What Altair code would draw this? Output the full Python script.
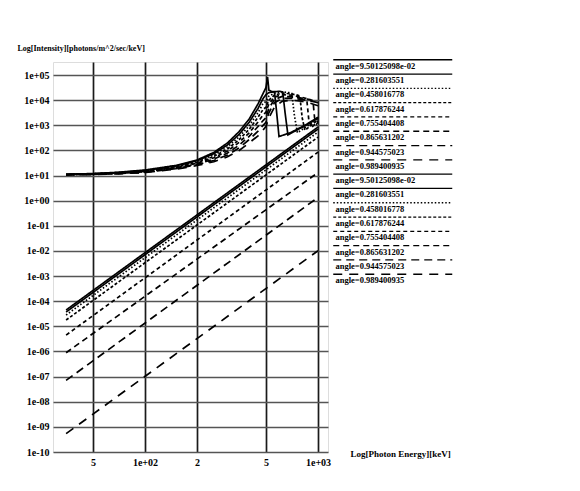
import altair as alt
import pandas as pd

# ---------------- data ----------------
ANGLE_LABELS = ["9.50125098e-02", "0.281603551", "0.458016778", "0.617876244",
                "0.755404408", "0.865631202", "0.944575023", "0.989400935"]

DASHES = [[1, 0], [1, 0], [1.5, 2], [3, 2], [4, 3], [6, 4], [8, 5], [9, 7]]

# upper family: rising part (common energies, keV) and log10 intensity per angle
RISE_E = [35, 50, 70, 100, 150, 200, 250, 300, 350, 400, 450, 480]
RISE_LOG = [
    [1.05, 1.08, 1.13, 1.22, 1.40, 1.62, 1.92, 2.30, 2.75, 3.25, 3.85, 4.25],
    [1.05, 1.07, 1.12, 1.20, 1.38, 1.59, 1.87, 2.22, 2.64, 3.12, 3.67, 4.05],
    [1.04, 1.07, 1.11, 1.19, 1.36, 1.56, 1.82, 2.14, 2.54, 2.98, 3.50, 3.85],
    [1.04, 1.06, 1.10, 1.17, 1.33, 1.52, 1.76, 2.06, 2.43, 2.84, 3.32, 3.62],
    [1.04, 1.06, 1.09, 1.16, 1.31, 1.49, 1.71, 1.98, 2.32, 2.70, 3.13, 3.40],
    [1.04, 1.05, 1.09, 1.15, 1.29, 1.46, 1.65, 1.90, 2.21, 2.56, 2.95, 3.18],
    [1.03, 1.05, 1.08, 1.13, 1.27, 1.43, 1.60, 1.82, 2.10, 2.43, 2.77, 2.99],
    [1.03, 1.04, 1.07, 1.12, 1.25, 1.40, 1.55, 1.75, 2.00, 2.30, 2.58, 2.80],
]
# upper family: peak / dome part
TAIL_E = [
    [500, 511, 520, 540, 560, 575, 595, 700, 850, 1000],
    [500, 520, 560, 600, 625, 645, 670, 800, 1000],
    [500, 520, 560, 620, 680, 705, 730, 760, 880, 1000],
    [500, 520, 560, 620, 700, 760, 785, 810, 840, 1000],
    [500, 520, 560, 620, 700, 800, 860, 885, 915, 1000],
    [500, 520, 560, 620, 700, 800, 900, 935, 955, 980, 1000],
    [500, 520, 560, 620, 700, 800, 900, 1000],
    [500, 520, 560, 620, 700, 800, 900, 1000],
]
TAIL_LOG = [
    [4.50, 4.92, 4.40, 4.34, 4.33, 3.60, 2.55, 2.72, 3.02, 3.32],
    [4.22, 4.30, 4.34, 4.35, 4.33, 3.50, 2.62, 2.90, 3.28],
    [3.95, 4.16, 4.28, 4.33, 4.30, 4.27, 3.40, 2.70, 3.00, 3.25],
    [3.72, 4.00, 4.20, 4.28, 4.25, 4.20, 4.17, 3.30, 2.80, 3.22],
    [3.52, 3.85, 4.12, 4.22, 4.20, 4.12, 4.06, 3.20, 2.90, 3.18],
    [3.30, 3.68, 4.02, 4.15, 4.14, 4.08, 4.02, 3.98, 3.30, 3.05, 3.12],
    [3.12, 3.50, 3.90, 4.07, 4.08, 4.03, 3.97, 3.90],
    [2.95, 3.30, 3.72, 3.95, 4.00, 3.96, 3.88, 3.78],
]

# lower family: straight power-law lines (start / end, log10 intensity)
LOWER_E = [35, 1000]
LOWER_LOG = [
    [-4.35, 2.93], [-4.43, 2.85], [-4.55, 2.73], [-4.75, 2.53],
    [-5.35, 1.93], [-6.05, 1.12], [-7.15, 0.13], [-9.27, -1.99],
]

X_TICKS = [50, 100, 200, 500, 1000]
X_TICK_LABELS = ["5", "1e+02", "2", "5", "1e+03"]
Y_TICKS = [1e-10, 1e-09, 1e-08, 1e-07, 1e-06, 1e-05, 1e-04, 1e-03,
           1e-02, 1e-01, 1e+00, 1e+01, 1e+02, 1e+03, 1e+04, 1e+05]
Y_TICK_LABELS = ["1e-10", "1e-09", "1e-08", "1e-07", "1e-06", "1e-05", "1e-04", "1e-03",
                 "1e-02", "1e-01", "1e+00", "1e+01", "1e+02", "1e+03", "1e+04", "1e+05"]

# ---------------- table ----------------
rows = []
series_order = []
dash_range = []
for k, ang in enumerate(ANGLE_LABELS):
    name = f"u{k}|angle={ang}"
    series_order.append(name)
    dash_range.append(DASHES[k])
    for e, v in zip(RISE_E + TAIL_E[k], RISE_LOG[k] + TAIL_LOG[k]):
        rows.append({"series": name, "energy": e, "intensity": 10 ** v})
for k, ang in enumerate(ANGLE_LABELS):
    name = f"l{k}|angle={ang}"
    series_order.append(name)
    dash_range.append(DASHES[k])
    for e, v in zip(LOWER_E, LOWER_LOG[k]):
        rows.append({"series": name, "energy": e, "intensity": 10 ** v})
df = pd.DataFrame(rows)

x_label_expr = " : ".join(
    f"datum.value == {t} ? '{lab}'" for t, lab in zip(X_TICKS, X_TICK_LABELS)
) + " : ''"
y_label_expr = "[" + ",".join(f"'{s}'" for s in Y_TICK_LABELS) + "][round(log(datum.value)/LN10) + 10]"

FONT = "Liberation Serif"

chart = alt.Chart(df).mark_line(color="black", strokeWidth=1.7).encode(
    x=alt.X(
        "energy:Q",
        scale=alt.Scale(type="log", domain=[29.4, 1142], nice=False),
        axis=alt.Axis(
            values=X_TICKS, labelExpr=x_label_expr, labelFlush=False,
            grid=True, gridColor="#1a1a1a", gridWidth=1.7,
            domain=False, ticks=False, labelPadding=5,
            labelFont=FONT, labelFontSize=10, labelFontWeight="bold", labelColor="black",
            title="Log[Photon Energy][keV]", titleX=297, titleY=1,
            titleAlign="left", titleBaseline="middle",
            titleFont=FONT, titleFontSize=9, titleFontWeight="bold", titleColor="black",
        ),
    ),
    y=alt.Y(
        "intensity:Q",
        scale=alt.Scale(type="log", domain=[1e-10, 3.3e5], nice=False),
        axis=alt.Axis(
            values=Y_TICKS, labelExpr=y_label_expr, labelFlush=False,
            grid=True, gridColor="#555555", gridWidth=1.7,
            domain=False, ticks=False, labelPadding=4,
            labelFont=FONT, labelFontSize=10, labelFontWeight="bold", labelColor="black",
            title="Log[Intensity][photons/m^2/sec/keV]", titleAngle=0,
            titleX=-36, titleY=-14, titleAlign="left", titleBaseline="middle",
            titleFont=FONT, titleFontSize=8, titleFontWeight="bold", titleColor="black",
        ),
    ),
    strokeDash=alt.StrokeDash(
        "series:N",
        scale=alt.Scale(domain=series_order, range=dash_range),
        legend=alt.Legend(
            title=None, orient="none", legendX=274, legendY=-0.5, direction="vertical",
            symbolType="M1,-3H60.5", symbolSize=16, symbolStrokeWidth=1.3,
            symbolStrokeColor="black", symbolFillColor="transparent",
            strokeColor="transparent", fillColor="transparent",
            rowPadding=0.3, padding=0,
            labelOffset=0, labelBaseline="middle", labelExpr="split(datum.label, '|')[1]",
            labelFont=FONT, labelFontSize=8.5, labelFontWeight="bold", labelColor="black",
        ),
    ),
).properties(
    width=275,
    height=390,
    autosize=alt.AutoSizeParams(type="none"),
    padding={"left": 53, "top": 62, "right": 252, "bottom": 39},
).configure_view(stroke=None, strokeWidth=0).configure(background="white")

chart.save("out.html", embed_options={"renderer": "svg", "actions": False})
